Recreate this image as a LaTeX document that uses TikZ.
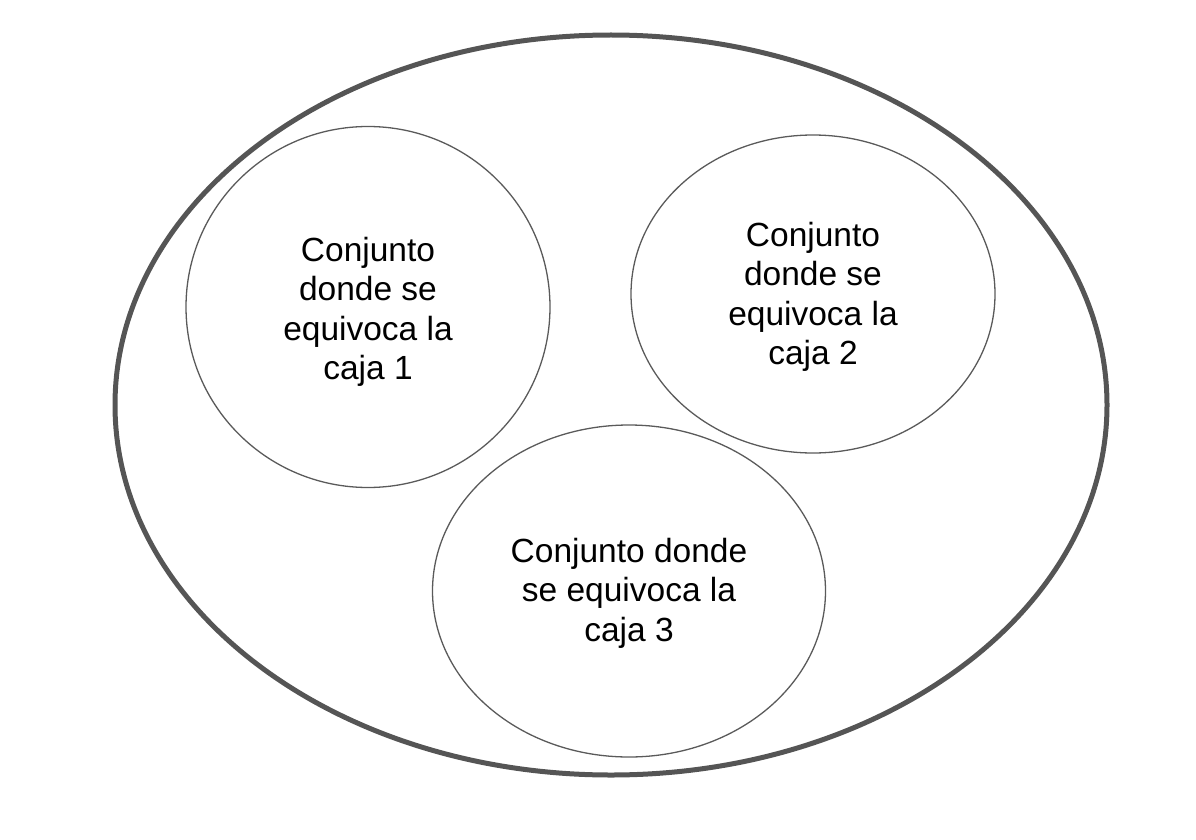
\documentclass[tikz,border=0pt]{standalone}
\usepackage{fontspec}
\setmainfont{Liberation Sans}
\usetikzlibrary{shapes.geometric}
\definecolor{outerc}{HTML}{555555}
\definecolor{innerc}{HTML}{5A5A5A}
\begin{document}
\begin{tikzpicture}[x=1pt,y=-1pt,
  outerset/.style={ellipse,draw=outerc,line width=5pt,inner sep=0pt},
  subset/.style={ellipse,draw=innerc,line width=1.3pt,inner sep=0pt},
  settext/.style={align=center,inner sep=0pt,
    font=\fontsize{33.5}{39.5}\selectfont,text=black}]
\useasboundingbox (0,0) rectangle (1196,840);
\node[outerset,minimum width=992pt,minimum height=740pt] (U) at (611,405) {};
\node[subset,minimum width=364pt,minimum height=361pt] (A) at (368,307) {};
\node[subset,minimum width=364pt,minimum height=318pt] (B) at (813,294) {};
\node[subset,minimum width=393pt,minimum height=332pt] (C) at (629,591) {};
\node[settext] (At) at ([yshift=-5pt]A.center) {Conjunto\\donde se\\equivoca la\\caja 1};
\node[settext] (Bt) at ([yshift=-3pt]B.center) {Conjunto\\donde se\\equivoca la\\caja 2};
\node[settext] (Ct) at ([yshift=-2pt]C.center) {Conjunto donde\\se equivoca la\\caja 3};
\end{tikzpicture}
\end{document}
